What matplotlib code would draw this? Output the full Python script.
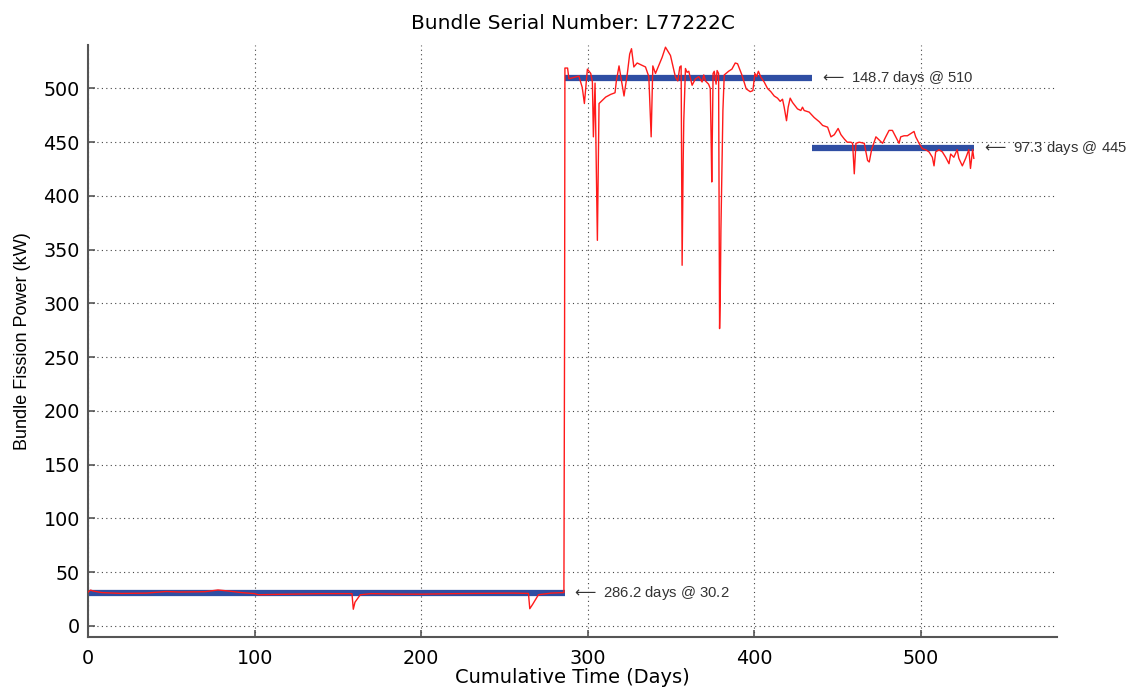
import matplotlib
matplotlib.use("Agg")
import matplotlib.pyplot as plt

plt.rcParams["font.family"] = ["DejaVu Sans"]

# Bundle fission power history (cumulative days, kW)
days = [
    0, 1.5, 3, 8, 20, 35, 47, 55, 70, 78, 84, 92, 100, 102, 120, 140,
    158.5, 159.3, 160.3, 163.5, 170, 185, 200, 220, 240, 255, 264.5, 265.3,
    267, 270.5, 278, 285.8,
    286.2, 286.4, 288.0, 288.8, 294.8, 296.8, 298.1, 299.9, 301.9, 302.9,
    303.5, 304.5, 305.9, 306.9, 308.9, 310.9, 313.9, 316.5, 317.3, 318.9,
    320.9, 321.9, 323.9, 325.3, 326.4, 327.8, 329.8, 334.8, 336.8, 337.8,
    338.2, 339.2, 340.8, 344.8, 346.8, 349.8, 352.8, 354.2, 355.4, 356.2,
    356.8, 357.4, 357.8, 358.8, 359.8, 360.8, 362.8, 364.8, 366.8, 368.8,
    369.8, 370.8, 372.7, 373.7, 374.2, 374.6, 375.4, 376.1, 377.2, 377.8,
    378.7, 379.3, 379.7, 380.1, 380.7, 381.3, 382.1, 384.7, 386.7, 388.7,
    390.1, 392.7, 395.3, 397.7, 399.3, 400.5, 401.5, 402.6, 404.1, 406.1,
    408.1, 410.1, 412.1, 414.1, 415.7, 417.1, 418.1, 419.5, 420.5, 421.7,
    423.1, 426.1, 428.1, 429.1, 430.1, 433.1, 436.1, 439.2, 441.2, 444.2,
    446.2, 448.2, 450.5, 452.2, 454.2, 456.0, 458.2, 459.2, 460.2, 461.2,
    463.2, 466.2, 468.2, 469.2, 470.6, 473.2, 475.2, 477.2, 479.1, 481.1,
    483.1, 485.1, 487.1, 488.1, 490.1, 492.1, 494.1, 496.1, 497.1, 499.1,
    501.1, 503.1, 505.1, 507.1, 508.1, 509.1, 511.1, 513.1, 515.1, 517.1,
    518.1, 520.0, 522.0, 523.0, 525.1, 527.1, 529.0, 530.0, 531.3, 532.0,
]
power = [
    31.5, 33.3, 32.5, 31, 30.2, 30.5, 32, 31.5, 31.8, 33.4, 32.5, 31, 30, 29,
    29.5, 30, 30, 15.5, 22, 29, 30, 29.6, 29.5, 30, 30.3, 30.5, 30.2, 16,
    20, 29, 30.5, 31,
    275, 519, 519, 509, 511.5, 501, 486, 518, 514, 506,
    455, 505, 358.7, 486, 489, 492, 494.5, 496, 507, 521,
    502, 493, 514, 532, 537, 520, 523.7, 520, 511, 470,
    455, 521, 514, 529, 538.4, 530.7, 510.5, 507, 520, 521,
    335.5, 428, 470, 518.6, 515, 516, 503, 509, 511, 506,
    512.6, 507, 504, 500, 456, 413, 514, 516, 504, 516.7,
    514, 276.6, 306, 368, 427, 479.5, 512.6, 516, 518, 523.7,
    523, 512.6, 499.6, 497, 498, 514, 511, 516, 510.5, 506,
    500, 497, 493, 491, 488, 490, 482.6, 470, 482.6, 491,
    487, 481, 479.5, 482.6, 479.5, 478, 473, 469, 465.6, 464,
    455, 457, 462.8, 457, 453, 450, 450, 449, 420.6, 449,
    450, 449, 433, 431.6, 443, 455, 452, 449, 455, 461,
    461, 455, 449, 455, 456, 456, 458, 460, 455, 449,
    444, 443, 441, 436, 428, 441, 443, 441, 436, 430,
    439, 436, 443, 435, 428, 435, 443, 425.6, 443, 435,
]

# Constant-power periods: start day, length in days, mean power
period_start = [0.0, 286.2, 434.9]
period_days = [286.2, 148.7, 97.3]
period_power = [30.2, 510, 445]
period_labels = ["286.2 days @ 30.2", "148.7 days @ 510", "97.3 days @ 445"]

fig = plt.figure(figsize=(11.44, 6.89), dpi=100)
ax = fig.add_axes([0.077, 0.076, 0.847, 0.858])

for s, d, p in zip(period_start, period_days, period_power):
    ax.plot([s, s + d], [p, p], color="#2f4ea3", lw=4.5, solid_capstyle="butt", zorder=2)

ax.plot(days, power, color="#ff1a1a", lw=1.0, zorder=3)

for s, d, p, lab in zip(period_start, period_days, period_power, period_labels):
    ax.text(s + d + 4.5, p, r"$\longleftarrow$ " + lab, fontsize=10.7,
            family=["Liberation Sans", "DejaVu Sans"], color="#333333",
            va="center", ha="left", zorder=4)

ax.set_xlim(0, 582)
ax.set_ylim(-10, 540)
ax.set_xticks([0, 100, 200, 300, 400, 500])
ax.set_yticks(range(0, 501, 50))

ax.grid(True, color="#444444", linestyle=(0, (1, 3)), lw=0.8)
ax.set_axisbelow(True)

for side in ("top", "right"):
    ax.spines[side].set_visible(False)
for side in ("left", "bottom"):
    ax.spines[side].set_color("#555555")
    ax.spines[side].set_linewidth(1.5)
ax.tick_params(direction="in", length=5, width=1.2, color="#555555",
               labelsize=13.8, labelcolor="black")
ax.tick_params(axis="x", pad=9)
ax.tick_params(axis="y", pad=6)

ax.set_title("Bundle Serial Number: L77222C", fontsize=14.5, pad=12)
ax.set_xlabel("Cumulative Time (Days)", fontsize=14, labelpad=0)
ax.set_ylabel("Bundle Fission Power (kW)", fontsize=13,
              family=["Liberation Sans", "DejaVu Sans"], labelpad=9)

fig.savefig("out.png", dpi=100)
